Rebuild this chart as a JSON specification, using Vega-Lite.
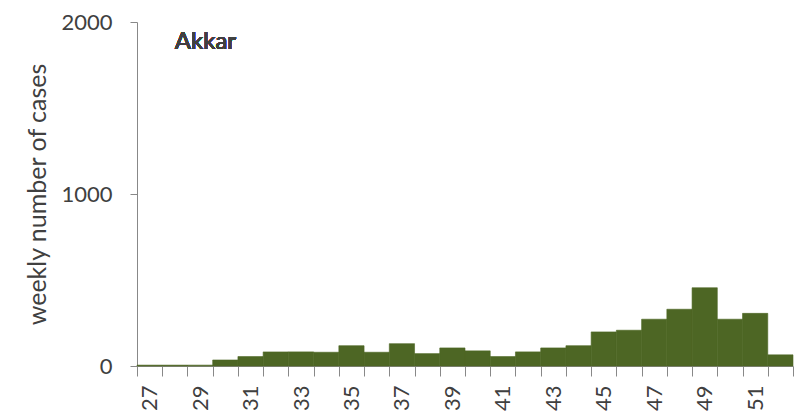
{
  "$schema": "https://vega.github.io/schema/vega-lite/v6.json",
  "width": 656,
  "height": 344,
  "autosize": "none",
  "padding": {"left": 137, "top": 22, "right": 1, "bottom": 48},
  "background": "white",
  "config": {
    "view": {"stroke": null},
    "font": "Lato",
    "axis": {
      "labelFont": "Lato",
      "titleFont": "Lato",
      "labelColor": "#404040",
      "titleColor": "#404040",
      "domainColor": "#888888",
      "tickColor": "#888888",
      "grid": false
    }
  },
  "data": {
    "values": [
      {"week": 27, "cases": 5},
      {"week": 28, "cases": 5},
      {"week": 29, "cases": 5},
      {"week": 30, "cases": 35},
      {"week": 31, "cases": 55},
      {"week": 32, "cases": 82},
      {"week": 33, "cases": 82},
      {"week": 34, "cases": 80},
      {"week": 35, "cases": 118},
      {"week": 36, "cases": 80},
      {"week": 37, "cases": 130},
      {"week": 38, "cases": 72},
      {"week": 39, "cases": 105},
      {"week": 40, "cases": 88},
      {"week": 41, "cases": 55},
      {"week": 42, "cases": 82},
      {"week": 43, "cases": 105},
      {"week": 44, "cases": 118},
      {"week": 45, "cases": 198},
      {"week": 46, "cases": 208},
      {"week": 47, "cases": 272},
      {"week": 48, "cases": 330},
      {"week": 49, "cases": 455},
      {"week": 50, "cases": 272},
      {"week": 51, "cases": 306},
      {"week": 52, "cases": 65}
    ]
  },
  "layer": [
    {
      "mark": {"type": "bar", "color": "#4d6624", "stroke": "#4d6624", "strokeWidth": 0.6},
      "encoding": {
        "x": {
          "field": "week",
          "type": "ordinal",
          "sort": "ascending",
          "scale": {"paddingInner": 0, "paddingOuter": 0},
          "axis": {
            "title": null,
            "tickBand": "extent",
            "labelExpr": "datum.value % 2 == 1 ? datum.label : ''",
            "labelAngle": -90,
            "labelFontSize": 22,
            "labelPadding": 9,
            "tickSize": 10,
            "labelOverlap": false
          }
        },
        "y": {
          "field": "cases",
          "type": "quantitative",
          "scale": {"domain": [0, 2000], "nice": false},
          "axis": {
            "title": "weekly number of cases",
            "values": [0, 1000, 2000],
            "format": "d",
            "labelFontSize": 22,
            "titleFontSize": 25,
            "titleFontWeight": "normal",
            "tickSize": 7,
            "labelPadding": 18,
            "titlePadding": 10
          }
        }
      }
    },
    {
      "mark": {"type": "text", "align": "left", "baseline": "alphabetic", "fontSize": 24, "fontWeight": 400, "color": "#404040", "font": "Lato"},
      "encoding": {
        "x": {"datum": 28, "type": "ordinal"},
        "y": {"datum": 1845, "type": "quantitative"},
        "text": {"value": "Akkar"}
      }
    }
  ]
}
